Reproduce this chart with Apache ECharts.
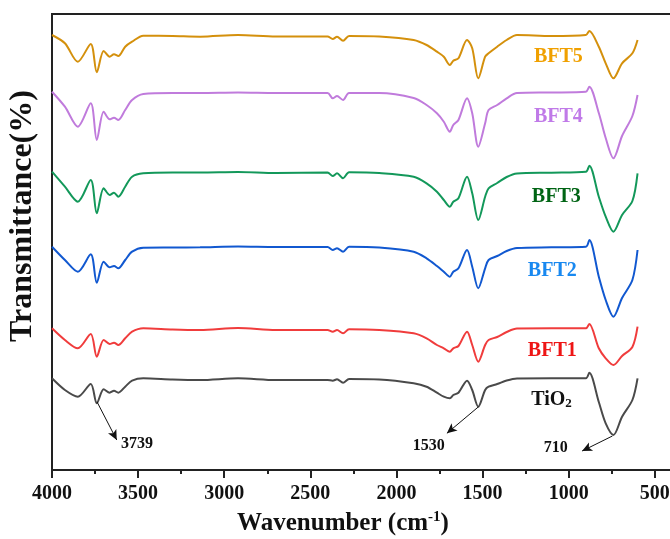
<!DOCTYPE html>
<html>
<head>
<meta charset="utf-8">
<script src="https://cdn.jsdelivr.net/npm/echarts@6/dist/echarts.min.js"></script>
<style>
  html, body { margin: 0; padding: 0; background: #fff; }
  #ftir-box { width: 670px; height: 539px; }
</style>
</head>
<body>
<div id="ftir-box"></div>
<script>
// wavenumbers (cm-1) where the spectra were read
const wavenumbers = [4000, 3925, 3850, 3775, 3740, 3700, 3665, 3640, 3615, 3575,
  3535, 3470, 3300, 3140, 2920, 2700, 2400, 2370, 2345, 2310,
  2275, 2100, 1900, 1825, 1765, 1725, 1690, 1670, 1640, 1590,
  1560, 1525, 1485, 1465, 1415, 1360, 1300, 1100, 900, 880,
  825, 785, 740, 690, 630, 600]

// transmittance, stacked with offsets (a.u.)
const bft5 = [435, 426.7, 408.3, 426, 397.7, 419, 413.3, 415.7, 414, 423.3,
  428.3, 434.3, 434, 433.3, 435, 433.5, 433.5, 431, 433.3, 429.3,
  434, 433.5, 430, 425, 418.3, 413.3, 405, 409.3, 411.7, 430,
  421.7, 391.7, 413.3, 416.7, 423.3, 430, 435, 434, 435, 439,
  423.3, 406.7, 391.7, 406.7, 416.7, 430]
const bft4 = [378.3, 363.3, 343.3, 366.7, 330, 358.3, 350.7, 352.3, 350, 360,
  370, 376, 377, 377, 377.5, 377, 377, 371.7, 374, 370,
  377, 377, 372, 365, 356.7, 348.3, 338.3, 345, 350, 371.7,
  356.7, 323.3, 346.7, 360, 365, 371.7, 377, 377.5, 378.3, 383.3,
  357, 332, 311.7, 334, 354, 375]
const bft3 = [298.3, 283.3, 268.3, 290, 256.7, 281.7, 275, 277.3, 273.3, 283.3,
  293.3, 296.7, 297.5, 297.5, 298, 297, 297.5, 294, 296.7, 291.7,
  297.7, 297, 293.3, 286.7, 278.3, 270, 263.3, 268.3, 271.7, 293.3,
  276.7, 250, 273.3, 281.7, 287, 293, 296.5, 297.3, 298.3, 304.3,
  273.3, 253.3, 238.3, 255, 269, 296.7]
const bft2 = [223.3, 210, 198.3, 215.7, 187.3, 208.3, 202.7, 204, 201.7, 210,
  218.3, 222.3, 222.5, 222.7, 223.5, 223, 223, 220, 221.7, 218.3,
  223.3, 222.5, 218.3, 211.7, 204, 198.3, 193.3, 198.3, 201.7, 220,
  203.3, 181.7, 201.7, 210, 214, 219, 222, 222.7, 223.3, 230,
  193.3, 170, 153.3, 172, 190, 220]
const bft1 = [141.7, 130, 121.7, 136, 113.3, 130, 126, 127.3, 125, 131.7,
  138.3, 141.7, 140.5, 140, 142, 140, 140, 138.3, 140, 136.7,
  140.7, 140, 136.7, 131.7, 125, 121.7, 118.3, 121.7, 124, 138.3,
  125, 108.3, 125, 130, 133, 138, 141.5, 141.7, 141.7, 146,
  121.7, 111.7, 105, 114, 123, 143.3]
const tio2 = [91.7, 80, 73.3, 86, 66.7, 80.7, 77.3, 79.3, 77.3, 83.3,
  89.3, 91.7, 90.5, 90, 91.7, 90, 90, 89.3, 90.7, 87.3,
  91, 90.5, 86.7, 83.3, 77.3, 73.3, 71.7, 75, 77.3, 89.3,
  80, 63.3, 80, 83.3, 86, 89.5, 91.5, 91.7, 91.7, 97.3,
  68, 46.7, 35, 53.3, 70, 91.7]

const seriesNames = ['BFT5', 'BFT4', 'BFT3', 'BFT2', 'BFT1', 'TiO2']
const seriesValues = [bft5, bft4, bft3, bft2, bft1, tio2]
const lineColors = ['#d4900c', '#c07bdc', '#13985a', '#1158d0', '#f03c3c', '#4a4a4a']

// sample labels on the right: text, [wavenumber, value], colour
const sampleLabels = ['BFT5', 'BFT4', 'BFT3', 'BFT2', 'BFT1', 'TiO{s|2}']
const sampleLabelAt = [[1060, 413], [1060, 353], [1072, 273], [1095, 199], [1095, 119], [1100, 70]]
const sampleLabelColors = ['#f0a000', '#c07ae8', '#006414', '#1888f0', '#ee1515', '#111111']

// peak annotations on TiO2
const peakTexts = ['3739', '1530', '710']
const peakTextAt = [[3506, 26], [1812, 24], [1075, 22]]
const peakArrowFrom = [[3739, 68.3], [1523, 63.3], [746, 34]]
const peakArrowTo = [[3624, 30], [1707, 36.7], [922, 19]]

const majorTicks = [4000, 3500, 3000, 2500, 2000, 1500, 1000, 500]
const minorTicks = [3750, 3250, 2750, 2250, 1750, 1250, 750]

const serif = "'Liberation Serif', 'Times New Roman', serif"

const myChart = echarts.init(document.getElementById('ftir-box'))

const lineSeries = seriesNames.map((name, k) => ({
  name: name,
  type: 'line',
  xAxisIndex: 0,
  data: wavenumbers.map((w, i) => [w, seriesValues[k][i]]),
  showSymbol: false,
  smooth: 0.3,
  lineStyle: { color: lineColors[k], width: 2 },
  itemStyle: { color: lineColors[k] },
  z: 3
}))

lineSeries[5].markLine = {
  silent: true,
  symbol: ['none', 'arrow'],
  symbolSize: [7, 10],
  label: { show: false },
  lineStyle: { color: '#111', width: 1, type: 'solid' },
  data: peakArrowFrom.map((p, i) => [{ coord: p }, { coord: peakArrowTo[i] }])
}

myChart.setOption({
  animation: false,
  grid: {
    left: 52,
    top: 14,
    width: 620,
    height: 456,
    show: true,
    borderColor: '#222',
    borderWidth: 2,
    outerBoundsMode: 'none'
  },
  xAxis: [
    {
      type: 'value',
      position: 'bottom',
      min: 400,
      max: 4000,
      inverse: true,
      axisLine: { show: true, lineStyle: { color: '#222', width: 2 } },
      axisTick: { show: true, customValues: majorTicks, length: 8, lineStyle: { color: '#222', width: 2 } },
      axisLabel: {
        customValues: majorTicks,
        formatter: function (v) { return String(v) },
        margin: 14,
        fontSize: 20,
        fontWeight: 'bold',
        fontFamily: serif,
        color: '#111'
      },
      splitLine: { show: false },
      name: '{a|Wavenumber (cm}{b|-1}{a|)}',
      nameLocation: 'middle',
      nameGap: 40,
      nameTextStyle: {
        padding: [0, 38, 0, 0],
        rich: {
          a: { fontSize: 25, fontWeight: 'bold', fontFamily: serif, color: '#111', lineHeight: 28 },
          b: { fontSize: 15, fontWeight: 'bold', fontFamily: serif, color: '#111', lineHeight: 16, verticalAlign: 'top' }
        }
      }
    },
    {
      type: 'value',
      position: 'bottom',
      min: 400,
      max: 4000,
      inverse: true,
      axisLine: { show: false },
      axisTick: { show: true, customValues: minorTicks, length: 4, lineStyle: { color: '#222', width: 2 } },
      axisLabel: { show: false },
      splitLine: { show: false }
    }
  ],
  yAxis: {
    type: 'value',
    min: 0,
    max: 456,
    axisLine: { show: true, lineStyle: { color: '#222', width: 2 } },
    axisTick: { show: false },
    axisLabel: { show: false },
    splitLine: { show: false },
    name: 'Transmittance(%)',
    nameLocation: 'middle',
    nameGap: 13,
    nameTextStyle: {
      fontSize: 32,
      fontWeight: 'bold',
      fontFamily: serif,
      color: '#111',
      padding: [0, 0, 0, 52]
    }
  },
  series: lineSeries.concat([
    {
      name: 'labels',
      type: 'scatter',
      symbolSize: 0,
      silent: true,
      itemStyle: { opacity: 1 },
      data: sampleLabels.map((t, i) => ({
        value: sampleLabelAt[i],
        label: {
          show: true,
          position: 'inside',
          formatter: t,
          fontSize: 20,
          fontWeight: 'bold',
          fontFamily: serif,
          color: sampleLabelColors[i],
          opacity: 1,
          rich: {
            s: { fontSize: 13, fontWeight: 'bold', fontFamily: serif, color: sampleLabelColors[i], verticalAlign: 'bottom', lineHeight: 13, padding: [10, 0, 0, 0] }
          }
        }
      })),
      z: 4
    },
    {
      name: 'peaks',
      type: 'scatter',
      symbolSize: 0,
      silent: true,
      itemStyle: { opacity: 1 },
      data: peakTexts.map((t, i) => ({
        value: peakTextAt[i],
        label: {
          show: true,
          position: 'inside',
          formatter: t,
          fontSize: 16,
          fontWeight: 'bold',
          fontFamily: serif,
          color: '#111',
          opacity: 1
        }
      })),
      z: 4
    }
  ])
})
</script>
</body>
</html>
